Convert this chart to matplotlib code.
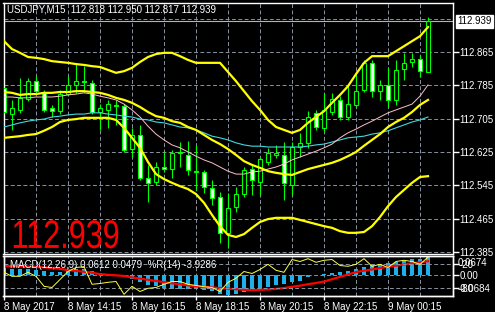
import numpy as np
import matplotlib.pyplot as plt
from matplotlib.transforms import blended_transform_factory, Affine2D
from matplotlib.patheffects import AbstractPathEffect

plt.rcParams['font.family'] = ['Liberation Sans', 'DejaVu Sans']

# ---- data: USDJPY M15, one value per bar ----
opens = [112.779, 112.716, 112.726, 112.752, 112.795, 112.769, 112.731, 112.723, 112.764,
         112.786, 112.795, 112.791, 112.721, 112.726, 112.738, 112.735, 112.632, 112.666,
         112.563, 112.553, 112.589, 112.584, 112.625, 112.618, 112.579, 112.577, 112.539,
         112.517, 112.431, 112.493, 112.524, 112.584, 112.553, 112.601, 112.618, 112.618,
         112.546, 112.637, 112.647, 112.719, 112.683, 112.721, 112.750, 112.709, 112.738,
         112.774, 112.839, 112.771, 112.786, 112.750, 112.824, 112.841, 112.848, 112.818]
highs = [112.793, 112.750, 112.803, 112.803, 112.807, 112.774, 112.738, 112.774, 112.807,
         112.839, 112.831, 112.798, 112.740, 112.750, 112.750, 112.740, 112.683, 112.690,
         112.594, 112.601, 112.625, 112.630, 112.649, 112.651, 112.642, 112.582, 112.558,
         112.529, 112.527, 112.541, 112.589, 112.594, 112.613, 112.635, 112.642, 112.649,
         112.649, 112.671, 112.723, 112.726, 112.767, 112.767, 112.759, 112.786, 112.810,
         112.846, 112.846, 112.798, 112.829, 112.846, 112.863, 112.863, 112.858, 112.950]
lows = [112.716, 112.678, 112.719, 112.747, 112.767, 112.721, 112.709, 112.716, 112.762,
        112.767, 112.769, 112.716, 112.678, 112.683, 112.690, 112.625, 112.613, 112.558,
        112.505, 112.546, 112.577, 112.563, 112.589, 112.570, 112.534, 112.527, 112.498,
        112.407, 112.395, 112.481, 112.517, 112.522, 112.522, 112.594, 112.611, 112.510,
        112.522, 112.613, 112.635, 112.678, 112.673, 112.714, 112.702, 112.702, 112.733,
        112.769, 112.757, 112.750, 112.733, 112.738, 112.798, 112.829, 112.805, 112.817]
closes = [112.721, 112.731, 112.755, 112.795, 112.771, 112.726, 112.723, 112.764, 112.786,
          112.795, 112.793, 112.721, 112.731, 112.740, 112.735, 112.630, 112.666, 112.563,
          112.551, 112.589, 112.584, 112.623, 112.623, 112.582, 112.577, 112.541, 112.515,
          112.431, 112.491, 112.524, 112.582, 112.558, 112.608, 112.623, 112.623, 112.551,
          112.637, 112.647, 112.709, 112.685, 112.726, 112.752, 112.709, 112.740, 112.771,
          112.839, 112.771, 112.786, 112.750, 112.822, 112.839, 112.848, 112.819, 112.939]

bb_upper = [112.891, 112.872, 112.863, 112.853, 112.851, 112.848, 112.843, 112.841, 112.839,
            112.836, 112.834, 112.831, 112.829, 112.822, 112.815, 112.819, 112.827, 112.841,
            112.853, 112.860, 112.863, 112.863, 112.855, 112.846, 112.839, 112.839, 112.839,
            112.839, 112.817, 112.795, 112.771, 112.747, 112.726, 112.702, 112.685, 112.678,
            112.671, 112.678, 112.695, 112.709, 112.723, 112.743, 112.762, 112.783, 112.812,
            112.839, 112.855, 112.855, 112.855, 112.867, 112.879, 112.891, 112.903, 112.925]
bb_middle = [112.769, 112.767, 112.762, 112.764, 112.764, 112.767, 112.767, 112.769, 112.769,
             112.771, 112.771, 112.769, 112.767, 112.762, 112.755, 112.750, 112.743, 112.733,
             112.721, 112.711, 112.707, 112.699, 112.695, 112.685, 112.678, 112.666, 112.654,
             112.644, 112.632, 112.618, 112.603, 112.594, 112.587, 112.579, 112.575, 112.572,
             112.570, 112.577, 112.584, 112.589, 112.594, 112.599, 112.606, 112.615, 112.625,
             112.640, 112.654, 112.668, 112.685, 112.697, 112.707, 112.721, 112.738, 112.750]
bb_lower = [112.659, 112.661, 112.663, 112.666, 112.668, 112.676, 112.685, 112.697, 112.702,
            112.704, 112.707, 112.707, 112.707, 112.707, 112.702, 112.683, 112.659, 112.635,
            112.601, 112.572, 112.560, 112.551, 112.543, 112.536, 112.524, 112.503, 112.474,
            112.447, 112.426, 112.421, 112.428, 112.443, 112.457, 112.464, 112.467, 112.467,
            112.467, 112.462, 112.457, 112.452, 112.447, 112.443, 112.435, 112.431, 112.431,
            112.433, 112.447, 112.469, 112.495, 112.517, 112.534, 112.551, 112.565, 112.567]
ma_pink = [112.757, 112.757, 112.755, 112.755, 112.757, 112.757, 112.757, 112.759, 112.762,
           112.764, 112.767, 112.764, 112.759, 112.755, 112.750, 112.740, 112.726, 112.709,
           112.687, 112.668, 112.654, 112.642, 112.635, 112.625, 112.615, 112.606, 112.599,
           112.589, 112.579, 112.572, 112.572, 112.577, 112.579, 112.584, 112.589, 112.596,
           112.606, 112.613, 112.620, 112.627, 112.635, 112.644, 112.659, 112.671, 112.680,
           112.690, 112.699, 112.709, 112.719, 112.726, 112.733, 112.740, 112.759, 112.786]
ma_cyan = [112.685, 112.690, 112.695, 112.699, 112.702, 112.704, 112.709, 112.711, 112.714,
           112.716, 112.716, 112.719, 112.719, 112.716, 112.714, 112.711, 112.709, 112.704,
           112.702, 112.697, 112.695, 112.690, 112.685, 112.683, 112.678, 112.671, 112.663,
           112.659, 112.654, 112.647, 112.642, 112.639, 112.639, 112.637, 112.637, 112.637,
           112.637, 112.637, 112.639, 112.642, 112.644, 112.649, 112.654, 112.659, 112.661,
           112.663, 112.668, 112.671, 112.676, 112.683, 112.690, 112.697, 112.702, 112.709]

macd_main = [0.025, 0.021, 0.021, 0.021, 0.018, 0.014, 0.011, 0.011, 0.018,
             0.021, 0.021, 0.014, 0.009, 0.005, 0.002, -0.004, -0.014, -0.021,
             -0.032, -0.037, -0.043, -0.045, -0.046, -0.046, -0.048, -0.050, -0.054,
             -0.063, -0.066, -0.064, -0.055, -0.050, -0.045, -0.039, -0.032, -0.030,
             -0.021, -0.018, -0.007, 0.000, 0.004, 0.007, 0.011, 0.015, 0.021,
             0.030, 0.036, 0.040, 0.042, 0.046, 0.050, 0.054, 0.055, 0.0612]
macd_signal = [0.032, 0.031, 0.031, 0.030, 0.029, 0.027, 0.025, 0.022, 0.018,
               0.015, 0.012, 0.009, 0.004, 0.002, 0.000, -0.002, -0.007, -0.011,
               -0.015, -0.019, -0.023, -0.027, -0.030, -0.034, -0.037, -0.039, -0.041,
               -0.043, -0.045, -0.047, -0.049, -0.050, -0.049, -0.048, -0.046, -0.043,
               -0.039, -0.035, -0.030, -0.026, -0.021, -0.013, -0.005, 0.003, 0.011,
               0.016, 0.020, 0.025, 0.029, 0.033, 0.037, 0.041, 0.044, 0.0479]
wpr = [-42, -52, -52, -42, -52, -77, -80, -60, -40,
       -30, -28, -72, -70, -67, -65, -97, -77, -90,
       -82, -80, -72, -65, -65, -72, -75, -78, -80,
       -90, -67, -57, -40, -45, -35, -22, -37, -42,
       -10, -15, -8, -17, -12, -10, -25, -27, -22,
       -8, -27, -22, -30, -15, -12, -15, -22, -3.9286]

time_labels = ["8 May 2017", "8 May 14:15", "8 May 16:15", "8 May 18:15",
               "8 May 20:15", "8 May 22:15", "9 May 00:15"]
time_label_bars = [0, 8, 16, 24, 32, 40, 48]
price_ticks = [112.865, 112.785, 112.705, 112.625, 112.545, 112.465, 112.385]
hidden_grid_price = 112.945
last_price = 112.939


class TallText(AbstractPathEffect):
    """Stretch a text's glyphs vertically from their baseline (narrow terminal font look)."""

    def __init__(self, sy):
        super().__init__()
        self.sy = sy

    def draw_path(self, renderer, gc, tpath, affine, rgbFace=None):
        y0 = affine.transform(tpath.vertices)[:, 1].min()
        t = affine + Affine2D().translate(0, -y0).scale(1, self.sy).translate(0, y0)
        renderer.draw_path(gc, tpath, t, rgbFace)


# ---- layout in pixels ----
W, H = 495, 312
fig = plt.figure(figsize=(W / 100, H / 100), dpi=100, facecolor='black')


def px_rect(x0, y0, x1, y1):
    return [x0 / W, 1 - y1 / H, (x1 - x0) / W, (y1 - y0) / H]


ax = fig.add_axes(px_rect(3.5, 2.5, 452.5, 253.5))
axm = fig.add_axes(px_rect(3.5, 255.5, 452.5, 295.5))
axw = axm.twinx()

GRID = dict(color='#8a94a0', lw=0.7, ls=(0, (4, 2.5)), zorder=0)
FG = 'white'
n = len(closes)
idx = np.arange(n)
xlim = (-0.0625, 56.06)

for a in (ax, axm, axw):
    a.set_facecolor('black')
    for s in a.spines.values():
        s.set_color(FG)
        s.set_linewidth(1.0)

# ---- main price panel ----
ax.set_xlim(*xlim)
ax.set_ylim(112.3814, 112.9838)
for p in price_ticks + [hidden_grid_price]:
    ax.axhline(p, **GRID)
for b in range(4, n, 4):
    ax.axvline(b, **GRID)
ax.axhline(last_price, color='#b4b4b4', lw=0.8, zorder=1)

o = np.array(opens)
c = np.array(closes)
ax.vlines(idx, lows, highs, color='#00ff00', lw=0.8, zorder=2)
body_lo = np.minimum(o, c)
body_h = np.maximum(np.abs(c - o), 0.0008)
fill = ['black' if cc >= oo else 'white' for oo, cc in zip(opens, closes)]
ax.bar(idx, body_h, bottom=body_lo, width=0.55, color=fill,
       edgecolor='#00ff00', linewidth=0.8, zorder=3)

ax.plot(idx, ma_cyan, color='#40d8e0', lw=0.8, zorder=4)
ax.plot(idx, ma_pink, color='#ffc0cb', lw=0.7, zorder=4)
for band in (bb_upper, bb_middle, bb_lower):
    ax.plot(idx, band, color='#ffff00', lw=1.6, zorder=5)

ax.set_xticks([])
ax.yaxis.tick_right()
ax.set_yticks(price_ticks)
ax.set_yticklabels([f"{p:.3f}" for p in price_ticks])
ax.tick_params(axis='y', colors=FG, length=4, width=1, pad=1, labelsize=7)

trm = blended_transform_factory(ax.transAxes, ax.transData)
ax.text(1.0105, last_price, f"{last_price:.3f}", transform=trm, color='black',
        fontsize=7, va='center', ha='left',
        bbox=dict(boxstyle='square,pad=0.15', fc='white', ec='white'))

fig.text(7 / W, 1 - 10 / H, "USDJPY,M15  112.818 112.950 112.817 112.939",
         color=FG, fontsize=7, va='center', ha='left')
ax.text(8 / 449, 1 - (248 - 2.5) / 251, f"{last_price:.3f}", transform=ax.transAxes,
        color='#ff0000', fontsize=22, va='baseline', ha='left',
        path_effects=[TallText(1.3)])

# ---- MACD + Williams %R panel ----
axm.set_xlim(*xlim)
axm.set_ylim(-0.0684, 0.0674)
axw.set_ylim(-100, 0)
axm.axhline(0, **GRID)
for lvl in (-20, -80):
    axw.axhline(lvl, **GRID)
for b in range(4, n, 4):
    axm.axvline(b, **GRID)
axm.bar(idx, macd_main, width=0.6, color='#1eb0ea', zorder=2)
axm.plot(idx, macd_signal, color='#ff0000', lw=1.6, zorder=3)
axw.plot(idx, wpr, color='#ffff40', lw=0.7, zorder=4)

axm.yaxis.tick_right()
axm.set_yticks([0])
axm.set_yticklabels(["0.00"])
axm.tick_params(axis='y', colors=FG, length=4, width=1, pad=1, labelsize=7)
axw.set_yticks([-20, -80])
axw.set_yticklabels(["-20", "-80"])
axw.tick_params(axis='y', colors=FG, length=4, width=1, pad=1, labelsize=7)
# MT4 prints the MACD window max/min on the same rows as the %R levels
axm.text(1.0105, 1 - (263 - 255.5) / 40, "0.0674", transform=axm.transAxes,
         color=FG, fontsize=7, va='center', ha='left')
axm.text(1.0105, 1 - (289 - 255.5) / 40, "-0.0684", transform=axm.transAxes,
         color=FG, fontsize=7, va='center', ha='left')

axm.set_xticks(time_label_bars)
axm.set_xticklabels(time_labels)
axm.tick_params(axis='x', colors=FG, length=3, width=1, pad=2, labelsize=7)
for lbl in axm.get_xticklabels():
    lbl.set_ha('left')

axm.text(7 / 449, 1 - (265 - 255.5) / 40, "MACD(12,26,9) 0.0612 0.0479  %R(14) -3.9286",
         transform=axm.transAxes, color=FG, fontsize=7, va='center', ha='left', zorder=6)

fig.savefig("out.png", dpi=100, facecolor='black')
